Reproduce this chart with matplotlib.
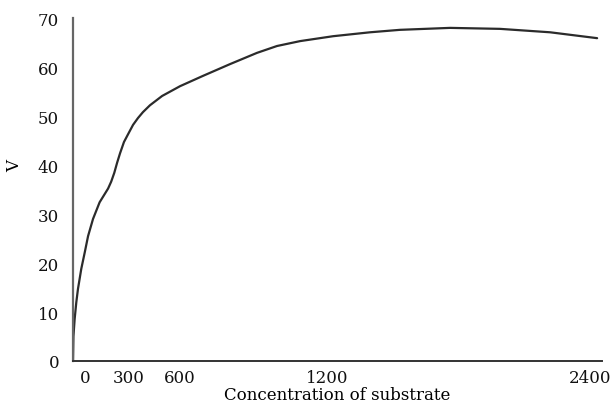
import matplotlib.pyplot as plt

# curve (x in plot units along the axis, V)
conc = [0, 2, 8, 16, 24, 40, 57, 73, 97, 129, 170, 185, 200, 214, 228, 247, 267, 291, 315, 339, 373, 432, 519,
        630, 761, 892, 989, 1101, 1261, 1440, 1585, 1828, 2070, 2313, 2541]
v = [0, 5.0, 8.6, 12.0, 14.7, 18.8, 22.2, 25.5, 29.0, 32.4, 35.2, 36.6, 38.4, 40.5, 42.4, 44.7, 46.3, 48.2, 49.6, 50.8, 52.2, 54.1, 56.1,
     58.2, 60.6, 62.9, 64.3, 65.3, 66.3, 67.1, 67.6, 68.0, 67.8, 67.1, 65.9]

# tick labels are not evenly spaced in the original
xtick_pos = [58, 272, 519, 1232, 2507]
xtick_labels = ["0", "300", "600", "1200", "2400"]
yticks = [0, 10, 20, 30, 40, 50, 60, 70]

plt.rcParams['font.family'] = ['DejaVu Serif']

fig = plt.figure(figsize=(6.1, 4.06), dpi=100)
ax = fig.add_axes([0.1197, 0.1084, 0.8673, 0.8446])

ax.plot(conc, v, color="#2b2b2b", linewidth=1.6, solid_capstyle="round", solid_joinstyle="round")

ax.set_xlim(0, 2565)
ax.set_ylim(0, 70)
ax.set_xticks(xtick_pos)
ax.set_xticklabels(xtick_labels)
ax.set_yticks(yticks)
ax.tick_params(length=0, labelsize=12, colors="#111111")
ax.tick_params(axis="x", pad=6)
ax.tick_params(axis="y", pad=10)

for s in ["top", "right"]:
    ax.spines[s].set_visible(False)
ax.spines["left"].set_color("#666666")
ax.spines["left"].set_linewidth(1.6)
ax.spines["bottom"].set_color("#333333")
ax.spines["bottom"].set_linewidth(1.4)

ax.set_xlabel("Concentration of substrate", fontsize=12, labelpad=0)
ax.set_ylabel("V", fontsize=12)
ax.yaxis.set_label_coords(-0.094, 0.573)

plt.savefig("out.png", dpi=100)
plt.close()
